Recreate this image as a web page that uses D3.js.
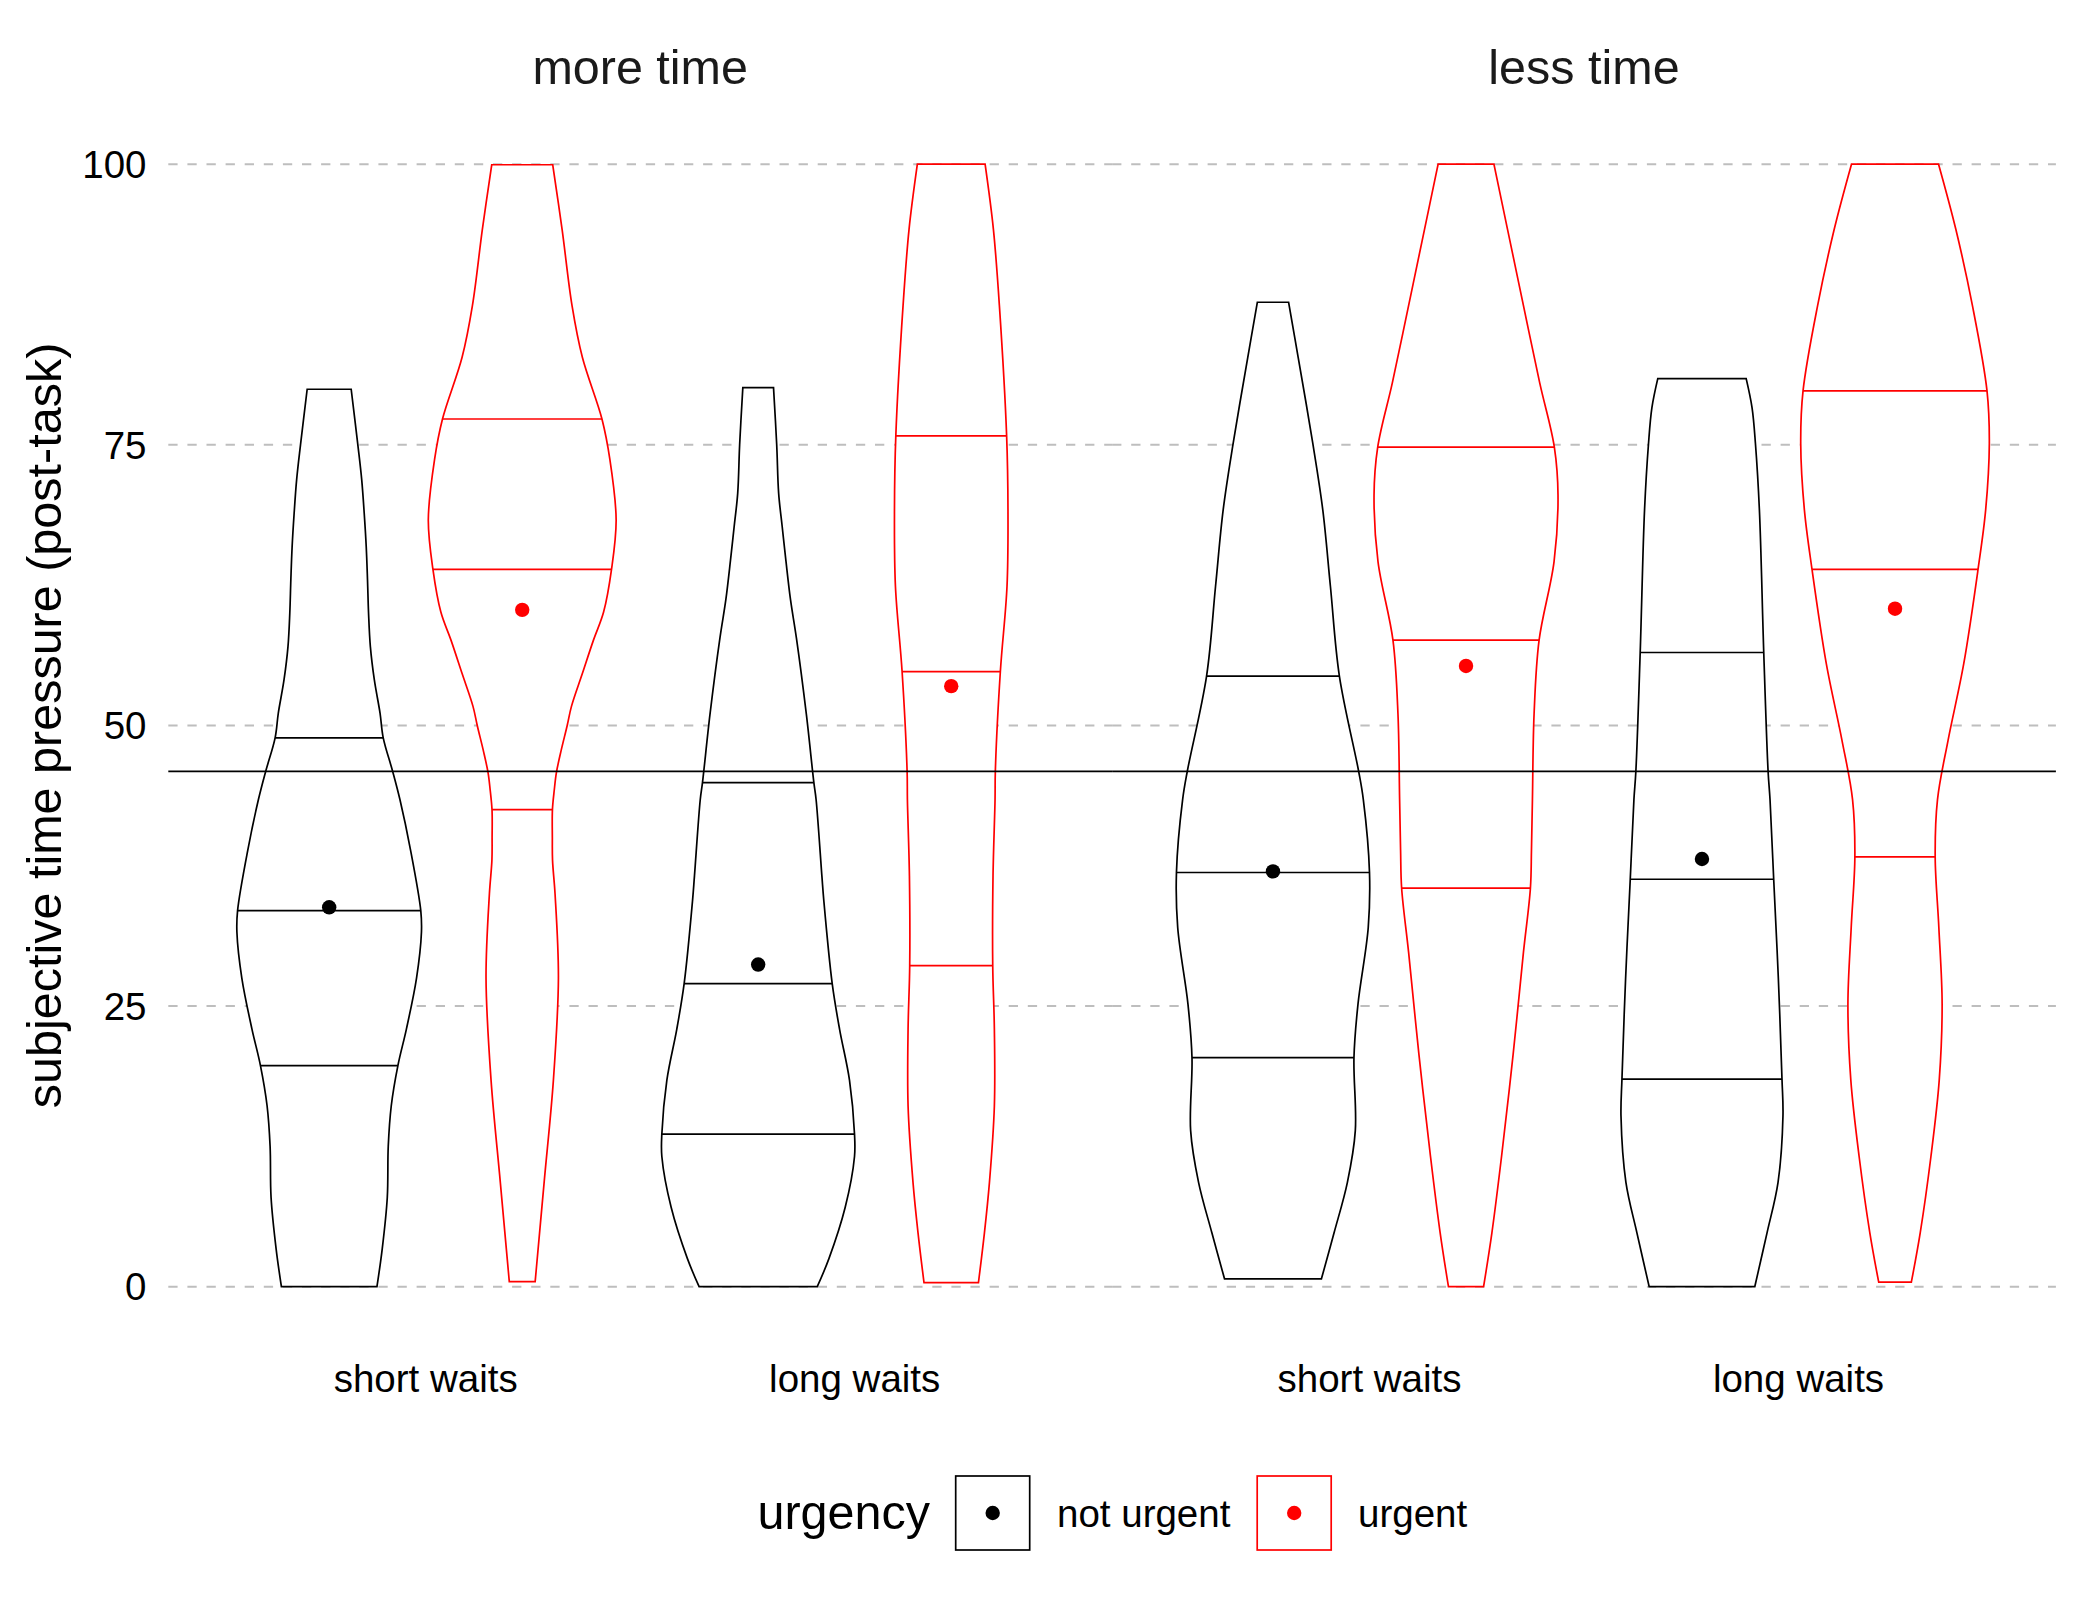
<!DOCTYPE html>
<html><head><meta charset="utf-8">
<script src="https://cdn.jsdelivr.net/npm/d3@7"></script>
<style>body{margin:0;background:#fff} text{font-family:"Liberation Sans",Arial,Helvetica,sans-serif}</style>
</head><body><svg id="chart" width="2080" height="1600"></svg>
<script>
// ---- data ----
const facets = ["more time", "less time"];
const waits = ["short waits", "long waits"];
const urgencyLevels = ["not urgent", "urgent"];
const urgencyColors = ["#000000", "#FF0000"];
const yTicks = [0, 25, 50, 75, 100];
const overallMean = 45.9;
// order of groups: more/short, more/long, less/short, less/long
const meanNotUrgent = [33.8, 28.7, 37.0, 38.1];
const meanUrgent = [60.3, 53.5, 55.3, 60.4];
const quantNotUrgent = [[19.7, 33.5, 48.9], [13.6, 27.0, 44.9], [20.4, 36.9, 54.4], [18.5, 36.3, 56.5]];
const quantUrgent = [[42.5, 63.9, 77.3], [28.6, 54.8, 75.8], [35.5, 57.6, 74.8], [38.3, 63.9, 79.8]];
// violin profiles: [value, scaled density (0..1)]
const densNotUrgent = [
  [[0,0.495],[3.4,0.55],[7.95,0.602],[12.5,0.612],[16.1,0.643],[19.7,0.712],[22.95,0.80],[27.5,0.905],[31.6,0.956],[33.5,0.949],[38.9,0.843],[43.4,0.733],[45.9,0.658],[48.9,0.56],[51.1,0.527],[54.05,0.468],[57.0,0.427],[60.0,0.408],[63.0,0.397],[65.9,0.384],[68.9,0.363],[71.9,0.337],[75.0,0.297],[79.95,0.228]],
  [[0,0.612],[2.5,0.733],[7.05,0.901],[11.6,0.998],[13.6,0.998],[18.4,0.946],[22.95,0.843],[27.0,0.767],[34.4,0.68],[36.6,0.66],[43.4,0.60],[44.9,0.577],[51.0,0.499],[57.8,0.396],[61.2,0.335],[64.7,0.287],[67.7,0.249],[70.7,0.212],[75.0,0.192],[80.1,0.159]],
  [[0.7,0.502],[4.8,0.633],[9.3,0.771],[13.9,0.853],[20.4,0.839],[25.2,0.881],[32.0,0.987],[36.9,1.0],[43.4,0.936],[45.9,0.888],[54.4,0.688],[62.4,0.595],[69.2,0.516],[75.1,0.413],[82.8,0.261],[87.7,0.162]],
  [[0,0.547],[4.8,0.674],[9.3,0.788],[15.2,0.839],[18.5,0.829],[27.5,0.791],[36.3,0.743],[43.4,0.705],[45.9,0.685],[56.5,0.64],[69.2,0.595],[75.1,0.554],[78.3,0.519],[80.9,0.458]]
];
const densUrgent = [
  [[0.45,0.134],[9.3,0.227],[18.4,0.323],[27.5,0.375],[35,0.34],[38.0,0.314],[40.0,0.312],[42.5,0.313],[44.25,0.332],[45.8,0.354],[47.8,0.404],[50.0,0.466],[51.7,0.51],[54.6,0.622],[57.6,0.738],[60.1,0.843],[63.9,0.925],[68.3,0.973],[73.7,0.908],[77.3,0.826],[82.8,0.623],[87.4,0.516],[94.2,0.413],[99.95,0.316]],
  [[0.36,0.282],[4.8,0.344],[9.3,0.396],[16.1,0.447],[22.95,0.447],[28.6,0.43],[36.6,0.433],[43.4,0.454],[45.9,0.457],[54.8,0.509],[62.4,0.578],[69.2,0.588],[75.8,0.574],[87.4,0.499],[94.2,0.437],[100,0.351]],
  [[0,0.182],[4.8,0.268],[11.6,0.368],[20.7,0.488],[29.8,0.595],[35.5,0.667],[38.9,0.678],[43.4,0.688],[51.0,0.705],[57.6,0.757],[64.6,0.912],[70.5,0.953],[74.8,0.915],[80.5,0.764],[87.4,0.595],[94.2,0.43],[100,0.289]],
  [[0.4,0.169],[4.8,0.261],[11.6,0.372],[18.4,0.458],[25.2,0.488],[32.0,0.454],[38.3,0.416],[43.4,0.44],[48.7,0.55],[55.5,0.712],[63.9,0.86],[69.2,0.939],[75.1,0.977],[79.8,0.953],[87.4,0.802],[94.2,0.63],[100,0.451]]
];
const yTitle = "subjective time pressure (post-task)";
const legendTitle = "urgency";

// ---- layout ----
const svg = d3.select("#chart");
svg.append("rect").attr("width", 2080).attr("height", 1600).attr("fill", "#fff");
const panelLeft = 168.3, panelRight = 2055.9;
const y = d3.scaleLinear().domain([0, 100]).range([1286.7, 164.2]);
const facetX = d3.scaleBand().domain(facets).range([panelLeft, panelRight]).padding(0);
const x = d3.scalePoint().domain(waits).range([0, facetX.bandwidth()]).padding(0.6);
const step = x.step();
const dodge = d3.scaleBand().domain(urgencyLevels).range([-0.45 * step, 0.45 * step]);
const w = d3.scaleLinear().domain([0, 1]).range([0, dodge.bandwidth() / 2]);
const FS_TICK = 38.5, FS_TITLE = 48.5;

function widthAt(profile, v) {
  for (let i = 0; i < profile.length - 1; i++) {
    const [a, da] = profile[i], [b, db] = profile[i + 1];
    if (v >= a && v <= b) return da + (db - da) * (v - a) / (b - a);
  }
  return v < profile[0][0] ? profile[0][1] : profile[profile.length - 1][1];
}

facets.forEach((f, fi) => {
  const g = svg.append("g").attr("transform", `translate(${facetX(f)},0)`);
  // gridlines
  g.selectAll("line.grid").data(yTicks).join("line")
    .attr("x1", 0).attr("x2", facetX.bandwidth())
    .attr("y1", d => y(d)).attr("y2", d => y(d))
    .attr("stroke", "#bebebe").attr("stroke-width", 2).attr("stroke-dasharray", "9.3,9.8");
  // strip label
  svg.append("text").attr("x", facetX(f) + facetX.bandwidth() / 2).attr("y", 83.5)
    .attr("text-anchor", "middle").attr("font-size", FS_TITLE).attr("fill", "#1a1a1a").text(f);

  waits.forEach((wt, wi) => {
    const k = fi * 2 + wi;
    const groups = [
      { u: 0, dens: densNotUrgent[k], q: quantNotUrgent[k], m: meanNotUrgent[k] },
      { u: 1, dens: densUrgent[k], q: quantUrgent[k], m: meanUrgent[k] }
    ];
    groups.forEach(gr => {
      const cx = x(wt) + dodge(urgencyLevels[gr.u]) + dodge.bandwidth() / 2;
      const col = urgencyColors[gr.u];
      const area = d3.area()
        .y(d => y(d[0]))
        .x0(d => cx - w(d[1]))
        .x1(d => cx + w(d[1]))
        .curve(d3.curveCatmullRom.alpha(0.5));
      g.append("path").datum(gr.dens).attr("d", area)
        .attr("fill", "#fff").attr("stroke", col).attr("stroke-width", 1.7)
        .attr("stroke-linejoin", "miter");
      g.selectAll(null).data(gr.q).join("line")
        .attr("x1", d => cx - w(widthAt(gr.dens, d)))
        .attr("x2", d => cx + w(widthAt(gr.dens, d)))
        .attr("y1", d => y(d)).attr("y2", d => y(d))
        .attr("stroke", col).attr("stroke-width", 1.7);
      gr.cx = cx;
    });
    groups.forEach(gr => {
      g.append("circle").attr("cx", gr.cx).attr("cy", y(gr.m)).attr("r", 7.2)
        .attr("fill", urgencyColors[gr.u]).attr("class", "mean");
    });
    // x tick label
    svg.append("text").attr("x", facetX(f) + x(wt)).attr("y", 1392)
      .attr("text-anchor", "middle").attr("font-size", FS_TICK).attr("fill", "#000").text(wt);
  });
  // overall mean line
  g.append("line").attr("x1", 0).attr("x2", facetX.bandwidth())
    .attr("y1", y(overallMean)).attr("y2", y(overallMean))
    .attr("stroke", "#000").attr("stroke-width", 1.7);
  g.selectAll("circle.mean").raise();
});

// y tick labels
svg.selectAll("text.ytick").data(yTicks).join("text")
  .attr("x", 146.5).attr("y", d => y(d)).attr("dy", "0.358em")
  .attr("text-anchor", "end").attr("font-size", FS_TICK).attr("fill", "#000").text(d => d);

// y title
svg.append("text").attr("transform", `translate(61,${(y(-5) + y(105)) / 2}) rotate(-90)`)
  .attr("text-anchor", "middle").attr("font-size", FS_TITLE).attr("fill", "#000").text(yTitle);

// legend
const lg = svg.append("g");
lg.append("text").attr("x", 757.5).attr("y", 1529).attr("font-size", FS_TITLE).attr("fill", "#000").text(legendTitle);
const keyX = [955.7, 1257.2];
const labX = [1057, 1358];
urgencyLevels.forEach((u, i) => {
  lg.append("rect").attr("x", keyX[i]).attr("y", 1476).attr("width", 74).attr("height", 74)
    .attr("fill", "#fff").attr("stroke", urgencyColors[i]).attr("stroke-width", 1.7);
  lg.append("circle").attr("cx", keyX[i] + 37).attr("cy", 1513).attr("r", 7.2).attr("fill", urgencyColors[i]);
  lg.append("text").attr("x", labX[i]).attr("y", 1527).attr("font-size", FS_TICK).attr("fill", "#000").text(u);
});
</script></body></html>
